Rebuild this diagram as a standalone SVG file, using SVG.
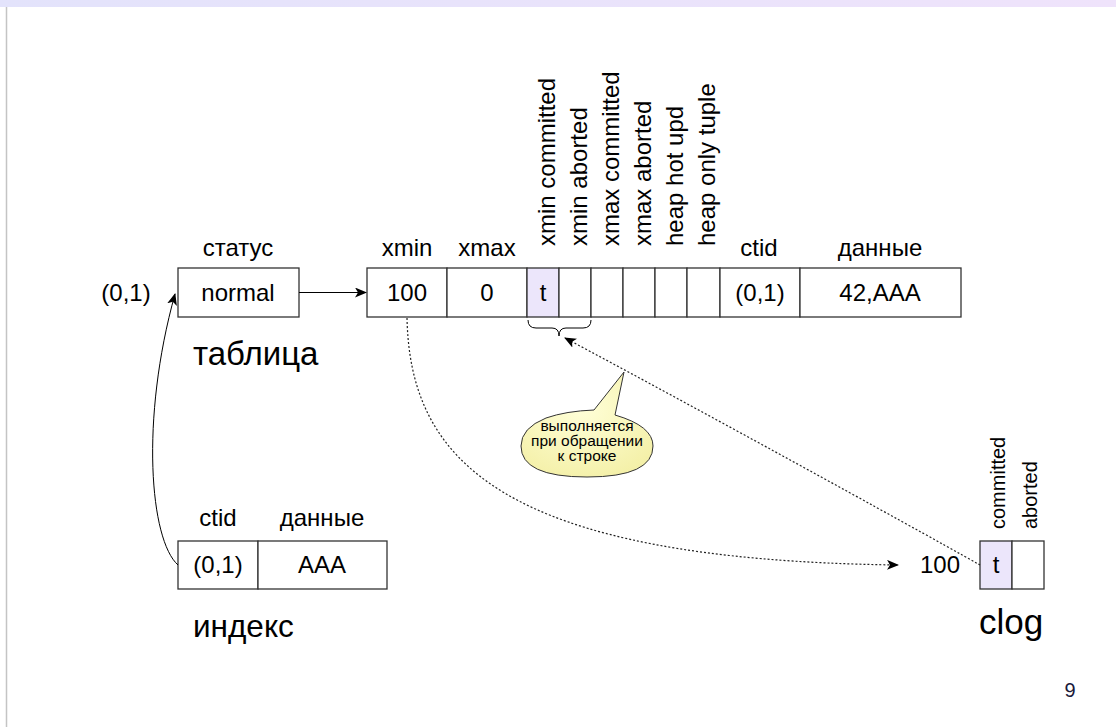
<svg xmlns="http://www.w3.org/2000/svg" width="1116" height="727" viewBox="0 0 1116 727">
<defs>
<linearGradient id="band" x1="0" y1="0" x2="1" y2="0"><stop offset="0" stop-color="#e3e3fb"/><stop offset="1" stop-color="#efe3fb"/></linearGradient>
<radialGradient id="bub" cx="0.45" cy="0.35" r="0.7"><stop offset="0" stop-color="#ffffd8"/><stop offset="1" stop-color="#f4f0a8"/></radialGradient>
<marker id="ah" viewBox="0 0 12 10" refX="11" refY="5" markerWidth="12" markerHeight="10" markerUnits="userSpaceOnUse" orient="auto"><path d="M0,0 L12,5 L0,10 L3,5 Z" fill="#000"/></marker>
</defs>
<style>
text{font-family:"Liberation Sans",Arial,sans-serif;fill:#000}
.c{fill:#fff;stroke:#333;stroke-width:1.3}
.p{fill:#ece6fb;stroke:#333;stroke-width:1.3}
.t{font-size:24px;text-anchor:middle}
.h{font-size:24px;text-anchor:middle}
.v{font-size:24px}
.vs{font-size:20px}
.big{font-size:33px}
.b{font-size:15.5px;text-anchor:middle}
.ln{fill:none;stroke:#000;stroke-width:1}
.dot{fill:none;stroke:#222;stroke-width:1.2;stroke-dasharray:2,2}
</style>
<rect x="0" y="0" width="1116" height="7" fill="url(#band)"/>
<line x1="6.5" y1="7" x2="6.5" y2="727" stroke="#c4c4c4" stroke-width="1.5"/>

<g id="table-status">
<text class="h" x="238" y="256">статус</text>
<text class="t" x="126" y="301">(0,1)</text>
<rect class="c" x="178" y="268" width="121" height="49"/>
<text class="t" x="238" y="301">normal</text>
<text class="big" x="193" y="365">таблица</text>
</g>

<g id="tuple">
<text class="h" x="407" y="256">xmin</text>
<text class="h" x="487" y="256">xmax</text>
<text class="h" x="759" y="256">ctid</text>
<text class="h" x="880" y="256">данные</text>
<text class="v" transform="translate(555,246) rotate(-90)">xmin committed</text>
<text class="v" transform="translate(587,246) rotate(-90)">xmin aborted</text>
<text class="v" transform="translate(619,246) rotate(-90)">xmax committed</text>
<text class="v" transform="translate(651,246) rotate(-90)">xmax aborted</text>
<text class="v" transform="translate(683,246) rotate(-90)">heap hot upd</text>
<text class="v" transform="translate(715,246) rotate(-90)">heap only tuple</text>
<rect class="c" x="367" y="268" width="80" height="49"/>
<rect class="c" x="447" y="268" width="80" height="49"/>
<rect class="p" x="527" y="268" width="32" height="49"/>
<rect class="c" x="559" y="268" width="32" height="49"/>
<rect class="c" x="591" y="268" width="32" height="49"/>
<rect class="c" x="623" y="268" width="32" height="49"/>
<rect class="c" x="655" y="268" width="32" height="49"/>
<rect class="c" x="687" y="268" width="33" height="49"/>
<rect class="c" x="720" y="268" width="80" height="49"/>
<rect class="c" x="800" y="268" width="161" height="49"/>
<text class="t" x="407" y="301">100</text>
<text class="t" x="487" y="301">0</text>
<text class="t" x="543" y="301">t</text>
<text class="t" x="760" y="301">(0,1)</text>
<text class="t" x="880" y="301">42,AAA</text>
<path class="ln" d="M528,320 Q528,328 536,328 L552,328 Q559,328 559,336 Q559,328 566,328 L583,328 Q591,328 591,320"/>
</g>

<g id="index">
<text class="h" x="218" y="526">ctid</text>
<text class="h" x="322" y="526">данные</text>
<rect class="c" x="178" y="541" width="80" height="48"/>
<rect class="c" x="258" y="541" width="129" height="48"/>
<text class="t" x="218" y="573">(0,1)</text>
<text class="t" x="322" y="573">AAA</text>
<text x="193" y="637" style="font-size:31.5px">индекс</text>
</g>

<g id="clog">
<text class="vs" transform="translate(1005,529) rotate(-90)">committed</text>
<text class="vs" transform="translate(1037,529) rotate(-90)">aborted</text>
<text class="t" x="940" y="573">100</text>
<rect class="p" x="980" y="541" width="32" height="48"/>
<rect class="c" x="1012" y="541" width="32" height="48"/>
<text class="t" x="996" y="573">t</text>
<text x="979" y="634" style="font-size:35px">clog</text>
</g>

<g id="bubble">
<path d="M546,418 Q566,411 594,410 L624,372 L615,415 Q653,426 653,446 Q653,477 587,477 Q521,477 521,446 Q521,428 546,418 Z" fill="url(#bub)" stroke="#333" stroke-width="1"/>
<text class="b" x="587" y="431">выполняется</text>
<text class="b" x="587" y="446">при обращении</text>
<text class="b" x="587" y="461">к строке</text>
</g>

<g id="connectors">
<line class="ln" x1="299" y1="292.5" x2="366" y2="292.5" marker-end="url(#ah)"/>
<path class="ln" d="M178,565 C150,540 140,420 175,294" marker-end="url(#ah)"/>
<path class="dot" d="M407,318 C410,460 500,560 898,565" marker-end="url(#ah)"/>
<path class="dot" d="M980,565 C900,520 700,410 565,338" marker-end="url(#ah)"/>
</g>

<text x="1070" y="697" font-size="20" text-anchor="middle" style="fill:#1a1a3a">9</text>
</svg>
